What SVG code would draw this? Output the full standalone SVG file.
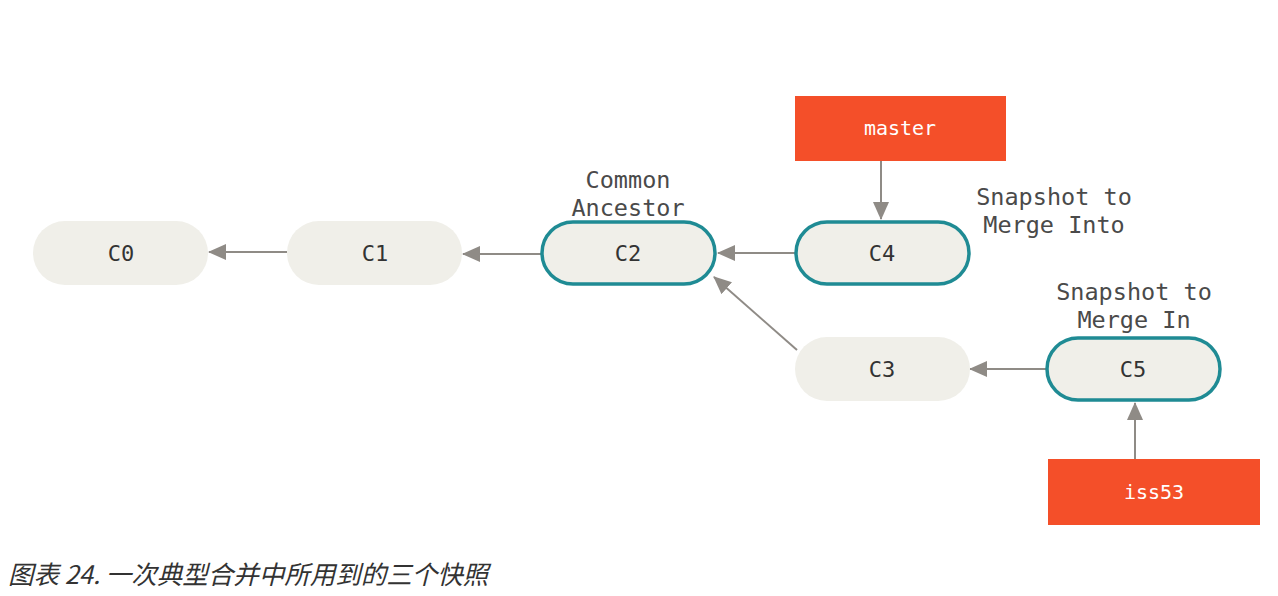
<svg xmlns="http://www.w3.org/2000/svg" width="1278" height="596" viewBox="0 0 1278 596">
<style>
.node{fill:#f0efe9;}
.hl{fill:#f0efe9;stroke:#1f8b94;stroke-width:3.5;}
.ref{fill:#f44f29;}
.t{font-family:"DejaVu Sans Mono","Liberation Mono",monospace;font-size:22px;fill:#333;text-anchor:middle;}
.rt{font-family:"DejaVu Sans Mono","Liberation Mono",monospace;font-size:20px;fill:#fff;text-anchor:middle;}
.lbl{font-family:"DejaVu Sans Mono","Liberation Mono",monospace;font-size:23.5px;fill:#4a4a4a;text-anchor:middle;}
.edge{stroke:#8f8b86;stroke-width:2;fill:none;marker-end:url(#ah);}
.cap{font-family:"Noto Sans CJK SC","Noto Sans",sans-serif;font-size:25.5px;font-style:italic;fill:#333;}
</style>
<defs>
<marker id="ah" viewBox="0 0 18 16" refX="17" refY="8" markerWidth="18" markerHeight="16" markerUnits="userSpaceOnUse" orient="auto">
<path d="M0,0 L18,8 L0,16 Z" fill="#8f8b86"/>
</marker>
</defs>
<rect width="1278" height="596" fill="#fff"/>
<g id="connectors">
<line class="edge" x1="287" y1="252" x2="209" y2="252"/>
<line class="edge" x1="541" y1="254" x2="463" y2="254"/>
<line class="edge" x1="795" y1="253" x2="718" y2="253"/>
<line class="edge" x1="797" y1="350" x2="714" y2="277"/>
<line class="edge" x1="1046" y1="369" x2="970" y2="369"/>
<line class="edge" x1="881" y1="161" x2="881" y2="219"/>
<line class="edge" x1="1135" y1="459" x2="1135" y2="403"/>
</g>
<g id="C0"><rect class="node" x="33" y="221" width="175" height="64" rx="32"/><text class="t" x="121" y="261">C0</text></g>
<g id="C1"><rect class="node" x="287" y="221" width="175" height="64" rx="32"/><text class="t" x="375" y="261">C1</text></g>
<g id="C2"><rect class="hl" x="542" y="222" width="173" height="62" rx="31"/><text class="t" x="628" y="261">C2</text></g>
<g id="C4"><rect class="hl" x="796" y="222" width="173" height="62" rx="31"/><text class="t" x="882" y="261">C4</text></g>
<g id="C3"><rect class="node" x="795" y="337" width="175" height="64" rx="32"/><text class="t" x="882" y="377">C3</text></g>
<g id="C5"><rect class="hl" x="1047" y="338" width="173" height="62" rx="31"/><text class="t" x="1133" y="377">C5</text></g>
<g id="master"><rect class="ref" x="795" y="96" width="211" height="65"/><text class="rt" x="900" y="135">master</text></g>
<g id="iss53"><rect class="ref" x="1048" y="459" width="212" height="66"/><text class="rt" x="1154" y="499">iss53</text></g>
<g id="label-common"><text class="lbl" x="628" y="188">Common</text><text class="lbl" x="628" y="216">Ancestor</text></g>
<g id="label-into"><text class="lbl" x="1054" y="205">Snapshot to</text><text class="lbl" x="1054" y="233">Merge Into</text></g>
<g id="label-in"><text class="lbl" x="1134" y="300">Snapshot to</text><text class="lbl" x="1134" y="328">Merge In</text></g>
<text class="cap" x="8" y="584">图表 24. 一次典型合并中所用到的三个快照</text>
</svg>
